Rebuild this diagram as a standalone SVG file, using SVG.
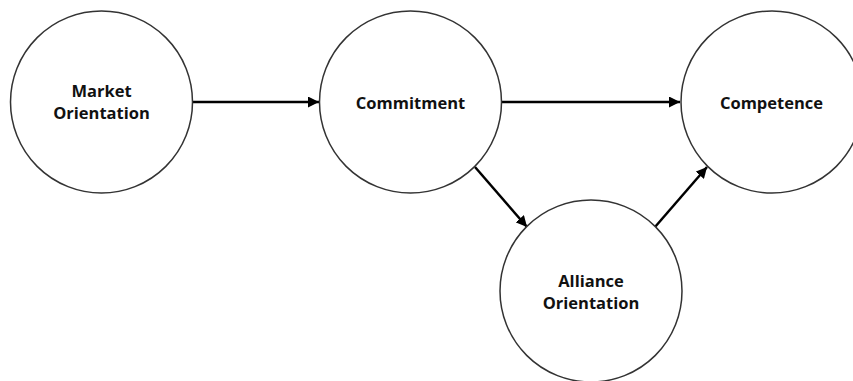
<svg xmlns="http://www.w3.org/2000/svg" width="853" height="381" viewBox="0 0 853 381">
<style>
.node circle{fill:#fff;stroke:#333;stroke-width:1.5}
.node text{font-family:"Open Sans","Liberation Sans",sans-serif;font-weight:700;font-size:16.5px;fill:#111;text-anchor:middle}
.conn line{stroke:#000;stroke-width:2.5}
</style>
<defs>
<marker id="arr" viewBox="0 0 10 10" refX="10" refY="5" markerWidth="4.4" markerHeight="4.4" orient="auto" markerUnits="strokeWidth">
<path d="M0,0 L10,5 L0,10 z" fill="#000"/>
</marker>
</defs>
<rect width="853" height="381" fill="#fff"/>
<g id="connectors" class="conn">
<line x1="192" y1="102" x2="319" y2="102" marker-end="url(#arr)"/>
<line x1="501" y1="102" x2="680" y2="102" marker-end="url(#arr)"/>
<line x1="475" y1="167" x2="527" y2="227" marker-end="url(#arr)"/>
<line x1="655" y1="227" x2="707" y2="167" marker-end="url(#arr)"/>
</g>
<g id="market" class="node">
<circle cx="101.5" cy="102" r="91"/>
<text x="101.5" y="97">Market</text>
<text x="101.5" y="119">Orientation</text>
</g>
<g id="commitment" class="node">
<circle cx="410.5" cy="102" r="91"/>
<text x="410.5" y="109">Commitment</text>
</g>
<g id="competence" class="node">
<circle cx="772" cy="102" r="91"/>
<text x="771.5" y="109">Competence</text>
</g>
<g id="alliance" class="node">
<circle cx="591" cy="291" r="91"/>
<text x="591" y="287">Alliance</text>
<text x="591" y="309">Orientation</text>
</g>
</svg>
